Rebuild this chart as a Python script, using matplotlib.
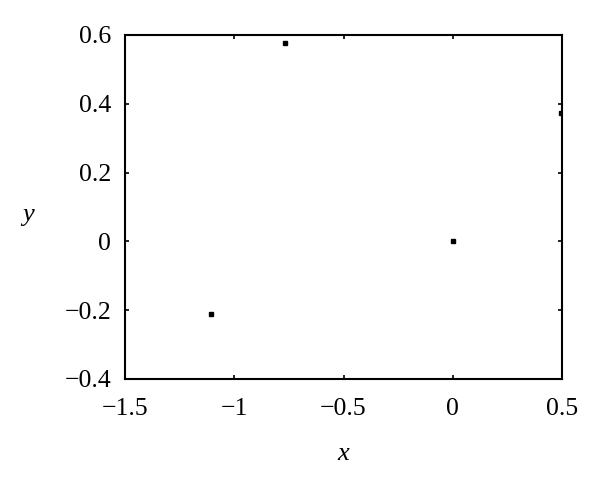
import matplotlib
matplotlib.use("Agg")
import matplotlib.pyplot as plt

x_vals = [-0.768, 0.497, -1.106, 0.0]
y_vals = [0.577, 0.373, -0.211, 0.0]
x_ticks = [-1.5, -1, -0.5, 0, 0.5]
x_tick_labels = ["\u22121.5", "\u22121", "\u22120.5", "0", "0.5"]
y_ticks = [-0.4, -0.2, 0, 0.2, 0.4, 0.6]
y_tick_labels = ["\u22120.4", "\u22120.2", "0", "0.2", "0.4", "0.6"]

plt.rcParams['font.family'] = ['Liberation Serif', 'DejaVu Serif']
fig = plt.figure(figsize=(6, 4.86), dpi=100)
ax = fig.add_axes([0.2083, 0.2202, 0.7284, 0.7078])
ax.plot(x_vals, y_vals, linestyle='none', marker='s', markersize=2.2, color='black')
ax.set_xlim(-1.5, 0.5)
ax.set_ylim(-0.4, 0.6)
ax.set_xticks(x_ticks)
ax.set_xticklabels(x_tick_labels)
ax.set_yticks(y_ticks)
ax.set_yticklabels(y_tick_labels)
ax.tick_params(direction='in', top=True, right=True, labelsize=18.5, length=3, width=1.2)
ax.tick_params(axis='x', pad=14)
ax.tick_params(axis='y', pad=10)
for s in ax.spines.values():
    s.set_linewidth(1.5)
ax.set_xlabel('x', fontsize=19, style='italic', labelpad=16)
ax.set_ylabel('y', fontsize=19, style='italic', rotation=0, ha='center', va='center')
ax.yaxis.set_label_coords(-0.222, 0.477)
fig.savefig('out.png', dpi=100)
